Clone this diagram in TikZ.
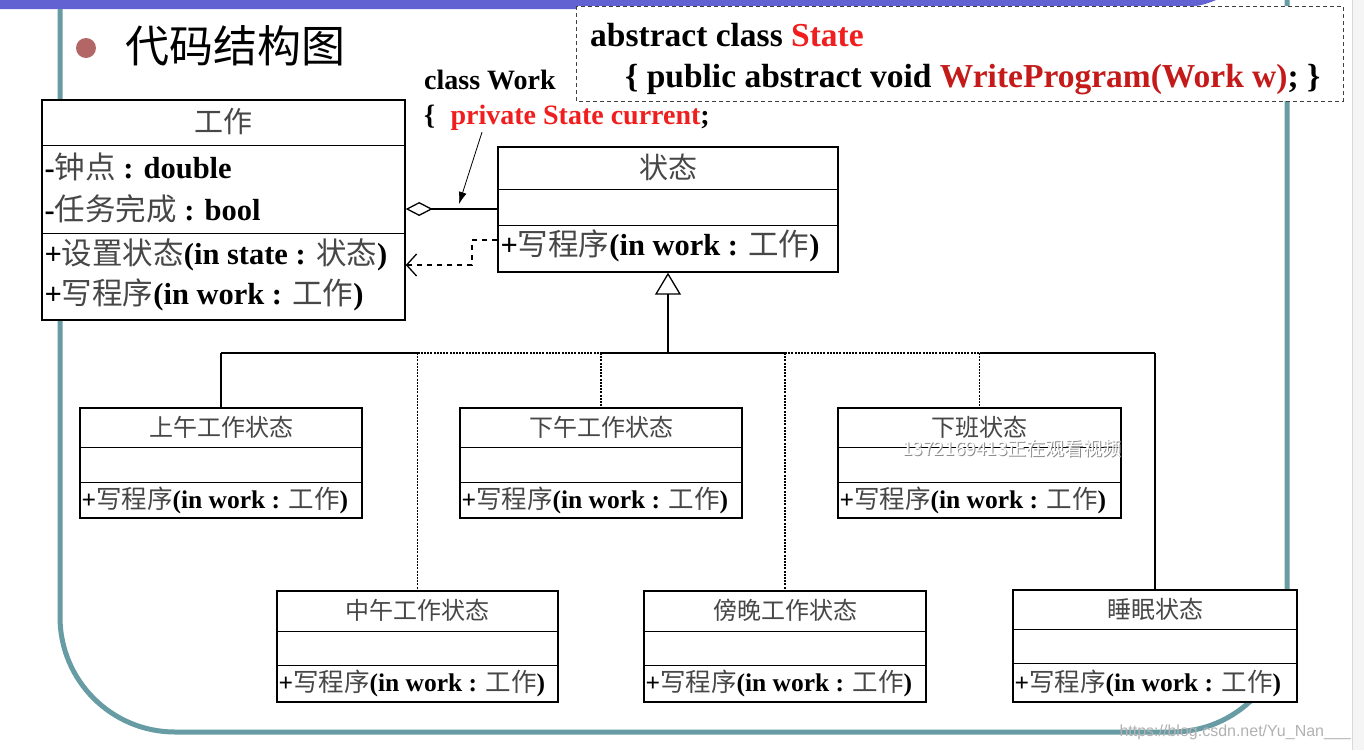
\documentclass[tikz,border=0pt]{standalone}
\usepackage{fontspec}
\setmainfont{Liberation Serif}
\newfontfamily\cjk{Noto Sans CJK SC}
\newfontfamily\wmfont{Liberation Sans}
\usetikzlibrary{arrows.meta, calc}

\definecolor{framecol}{RGB}{104,156,164}
\definecolor{barcol}{RGB}{98,98,210}
\definecolor{bulletcol}{RGB}{178,102,102}
\definecolor{redtext}{RGB}{240,30,30}
\definecolor{darkred}{RGB}{196,26,26}

\newcommand{\zh}[1]{{\cjk\mdseries\color{black!72}#1}}

\tikzset{
  classbox/.style={draw, line width=1.4pt, fill=white, inner sep=0pt},
  divider/.style={line width=1.4pt},
  ctitle/.style={inner sep=0pt, font=\cjk\fontsize{29}{32}\selectfont, text=black!72},
  member/.style={anchor=west, inner sep=0pt, font=\bfseries\fontsize{30.5}{33}\selectfont},
  stitle/.style={inner sep=0pt, font=\cjk\fontsize{24}{28}\selectfont, text=black!72},
  smember/.style={anchor=west, inner sep=0pt, font=\bfseries\fontsize{25.5}{28}\selectfont},
  codetext/.style={anchor=base west, inner sep=0pt, font=\bfseries\fontsize{33.5}{37}\selectfont},
  worktext/.style={anchor=base west, inner sep=0pt, font=\bfseries\fontsize{28}{32}\selectfont},
  link/.style={line width=1.3pt},
  thinlink/.style={line width=1.3pt, dash pattern=on 2pt off 1.2pt},
}

\begin{document}
\begin{tikzpicture}[x=1pt, y=-1pt]
    \useasboundingbox (0,0) rectangle (1364,750);
    \fill[white] (0,0) rectangle (1364,750);
    \fill[black!4] (1352,0) rectangle (1364,750);
    \draw[black!15, line width=1pt] (1352,0) -- (1352,750);

    % slide decoration
    \fill[barcol] (0,0) -- (0,9) -- (1150,9) .. controls (1190,9) and (1205,5) .. (1216,0) -- cycle;
    \draw[framecol, line width=5pt, rounded corners=115] (60,9) -- (60,732) -- (1287,732) -- (1287,0);

    \fill[bulletcol] (86,48) circle (10);
    \node[inner sep=0pt, font=\cjk\fontsize{44}{48}\selectfont] (title) at (235,46) {代码结构图};

    % code notes
    \draw[black!75, line width=1pt, dash pattern=on 4pt off 3pt, fill=white] (576,6) rectangle (1343,101);
    \node[codetext] (absline) at (590,46) {abstract class \textcolor{redtext}{State}};
    \node[codetext] (absmethod) at (625,87) {\{ public abstract void \textcolor{darkred}{WriteProgram(Work w)}; \}};
    \node[worktext] (workline) at (424,89) {class Work};
    \node[worktext] (wfield) at (424,124) {\{\hspace{0.55em}\textcolor{redtext}{private State current};};

    % class Work
    \node[classbox, minimum width=363, minimum height=220] (work) at (223.5,210) {};
    \draw[divider] ([yshift=-46]work.north west) -- ([yshift=-46]work.north east);
    \draw[divider] ([yshift=-134]work.north west) -- ([yshift=-134]work.north east);
    \node[ctitle] (worktitle) at ([yshift=-22]work.north) {工作};
    \node[member] (clock) at ([xshift=3,yshift=-68]work.north west) {-\zh{钟点} : double};
    \node[member] (done) at ([xshift=3,yshift=-110]work.north west) {-\zh{任务完成} : bool};
    \node[member] (setstate) at ([xshift=3,yshift=-156]work.north west) {+\zh{设置状态}(in state : \zh{状态})};
    \node[member] (workop) at ([xshift=3,yshift=-196]work.north west) {+\zh{写程序}(in work : \zh{工作})};

    % abstract class State
    \node[classbox, minimum width=340, minimum height=125] (state) at (668,209.5) {};
    \draw[divider] ([yshift=-43]state.north west) -- ([yshift=-43]state.north east);
    \draw[divider] ([yshift=-79]state.north west) -- ([yshift=-79]state.north east);
    \node[ctitle] (statetitle) at ([yshift=-21]state.north) {状态};
    \node[member] (stateop) at ([xshift=3,yshift=-100]state.north west) {+\zh{写程序}(in work : \zh{工作})};

    % concrete states, upper row
    \node[classbox, minimum width=282, minimum height=110] (am) at (221,463) {};
    \draw[divider] ([yshift=-40]am.north west) -- ([yshift=-40]am.north east);
    \draw[divider] ([yshift=-75]am.north west) -- ([yshift=-75]am.north east);
    \node[stitle] (amtitle) at ([yshift=-20]am.north) {上午工作状态};
    \node[smember] (amop) at ([xshift=2,yshift=18]am.south west) {+\zh{写程序}(in work : \zh{工作})};

    \node[classbox, minimum width=282, minimum height=110] (pm) at (601,463) {};
    \draw[divider] ([yshift=-40]pm.north west) -- ([yshift=-40]pm.north east);
    \draw[divider] ([yshift=-75]pm.north west) -- ([yshift=-75]pm.north east);
    \node[stitle] (pmtitle) at ([yshift=-20]pm.north) {下午工作状态};
    \node[smember] (pmop) at ([xshift=2,yshift=18]pm.south west) {+\zh{写程序}(in work : \zh{工作})};

    \node[classbox, minimum width=283, minimum height=110] (off) at (979.5,463) {};
    \draw[divider] ([yshift=-40]off.north west) -- ([yshift=-40]off.north east);
    \draw[divider] ([yshift=-75]off.north west) -- ([yshift=-75]off.north east);
    \node[stitle] (offtitle) at ([yshift=-20]off.north) {下班状态};
    \node[smember] (offop) at ([xshift=2,yshift=18]off.south west) {+\zh{写程序}(in work : \zh{工作})};

    % concrete states, lower row
    \node[classbox, minimum width=281, minimum height=111] (noon) at (417.5,646.5) {};
    \draw[divider] ([yshift=-41]noon.north west) -- ([yshift=-41]noon.north east);
    \draw[divider] ([yshift=-75]noon.north west) -- ([yshift=-75]noon.north east);
    \node[stitle] (noontitle) at ([yshift=-20]noon.north) {中午工作状态};
    \node[smember] (noonop) at ([xshift=2,yshift=19]noon.south west) {+\zh{写程序}(in work : \zh{工作})};

    \node[classbox, minimum width=282, minimum height=111] (dusk) at (785,646.5) {};
    \draw[divider] ([yshift=-41]dusk.north west) -- ([yshift=-41]dusk.north east);
    \draw[divider] ([yshift=-75]dusk.north west) -- ([yshift=-75]dusk.north east);
    \node[stitle] (dusktitle) at ([yshift=-20]dusk.north) {傍晚工作状态};
    \node[smember] (duskop) at ([xshift=2,yshift=19]dusk.south west) {+\zh{写程序}(in work : \zh{工作})};

    \node[classbox, minimum width=284, minimum height=112] (sleep) at (1155,646) {};
    \draw[divider] ([yshift=-40]sleep.north west) -- ([yshift=-40]sleep.north east);
    \draw[divider] ([yshift=-74]sleep.north west) -- ([yshift=-74]sleep.north east);
    \node[stitle] (sleeptitle) at ([yshift=-20]sleep.north) {睡眠状态};
    \node[smember] (sleepop) at ([xshift=2,yshift=19]sleep.south west) {+\zh{写程序}(in work : \zh{工作})};

    % association and dependency
    \coordinate (aggtip) at (459,204);
    \draw[link, {Diamond[open, length=27pt, width=14pt, line width=1.3pt]}-] (work.east |- 0,209) -- (state.west |- 0,209);
    \draw[line width=0.8pt, -{Latex[length=12pt, width=8pt]}] ([xshift=58,yshift=-2]wfield.south west) -- (aggtip);
    \draw[link, dash pattern=on 5pt off 5pt, -{Straight Barb[length=10pt, width=22pt, line width=1.3pt]}]
        (state.west |- 0,240) -- (472,240) |- (work.east |- 0,265);

    % inheritance
    \coordinate (bus) at (state.south |- 0,353);
    \draw[link, -{Triangle[open, length=22pt, width=26pt, line width=1.3pt]}] (bus) -- (state.south);
    \draw[link] (am.north |- 0,353) -- (noon.north |- 0,353);
    \draw[thinlink] (noon.north |- 0,353) -- (pm.north |- 0,353);
    \draw[link] (pm.north |- 0,353) -- (dusk.north |- 0,353);
    \draw[thinlink] (dusk.north |- 0,353) -- (off.north |- 0,353);
    \draw[link] (off.north |- 0,353) -- (sleep.north |- 0,353);

    \draw[link] (am.north |- 0,353) -- (am.north);
    \draw[thinlink] (noon.north |- 0,353) -- (noon.north);
    \draw[thinlink] (pm.north |- 0,353) -- (pm.north);
    \draw[thinlink] (dusk.north |- 0,353) -- (dusk.north);
    \draw[thinlink] (off.north |- 0,353) -- (off.north);
    \draw[link] (sleep.north |- 0,353) -- (sleep.north);

    % watermarks
    \node[inner sep=0pt, font=\cjk\fontsize{19}{21}\selectfont, text=black!45] (wmshadow) at (1013,449) {1372169413正在观看视频};
    \node[inner sep=0pt, font=\cjk\fontsize{19}{21}\selectfont, text=white] (wm) at (1012,448) {1372169413正在观看视频};
    \node[anchor=east, inner sep=0pt, font=\wmfont\fontsize{16}{18}\selectfont, text=black!30] (csdn) at (1351,732) {https://blog.csdn.net/Yu\_Nan\_\_\_};

\end{tikzpicture}
\end{document}
